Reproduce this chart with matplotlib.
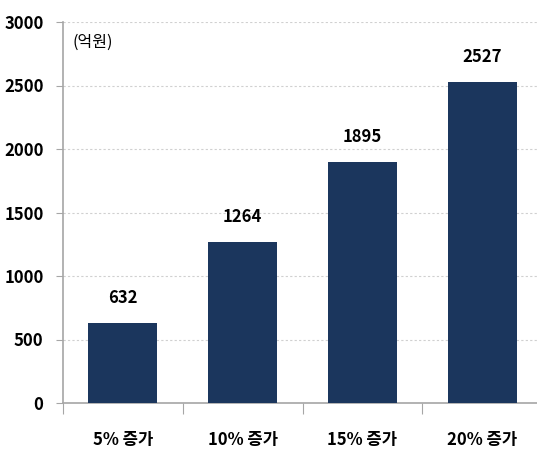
import matplotlib
matplotlib.use('Agg')
import matplotlib.pyplot as plt
import numpy as np

plt.rcParams['font.family'] = ['Noto Sans CJK KR', 'DejaVu Sans']

categories = ['5% 증가', '10% 증가', '15% 증가', '20% 증가']
values = [632, 1264, 1895, 2527]
yticks = [0, 500, 1000, 1500, 2000, 2500, 3000]

bar_color = '#1b365d'
axis_color = '#a6a6a6'
dpi = 100

fig = plt.figure(figsize=(537 / dpi, 457 / dpi), dpi=dpi)
ax = fig.add_axes([63 / 537, 54 / 457, 479 / 537, 381 / 457])

x = np.arange(len(categories))
ax.bar(x, values, width=0.575, color=bar_color, zorder=3)

ax.set_xlim(-0.5, len(categories) - 0.5)
ax.set_ylim(0, 3000)
ax.set_yticks(yticks)
ax.set_yticklabels([str(t) for t in yticks], fontsize=12, fontweight='bold')
ax.yaxis.grid(True, linestyle=(0, (2, 2)), color='#d0d0d0', linewidth=0.8, zorder=0)

# category boundaries carry the tick marks, labels sit at bar centres
ax.set_xticks(np.arange(len(categories) + 1) - 0.5)
ax.set_xticklabels([])
ax.tick_params(axis='x', length=8, color=axis_color, direction='out')
ax.tick_params(axis='y', length=5, color=axis_color, direction='out', pad=9)
for i, c in enumerate(categories):
    ax.annotate(c, xy=(i, 0), xytext=(0, -27), textcoords='offset points',
                ha='center', va='center', fontsize=12, fontweight='bold')

for spine in ['top', 'right']:
    ax.spines[spine].set_visible(False)
for spine in ['left', 'bottom']:
    ax.spines[spine].set_color(axis_color)
    ax.spines[spine].set_linewidth(1.2)

for i, v in enumerate(values):
    ax.annotate(str(v), xy=(i, v), xytext=(0, 18), textcoords='offset points',
                ha='center', va='center', fontsize=12, fontweight='bold')

ax.text(0.02, 0.97, '(억원)', transform=ax.transAxes, ha='left', va='top', fontsize=11.5)

fig.savefig('out.png', dpi=dpi)
